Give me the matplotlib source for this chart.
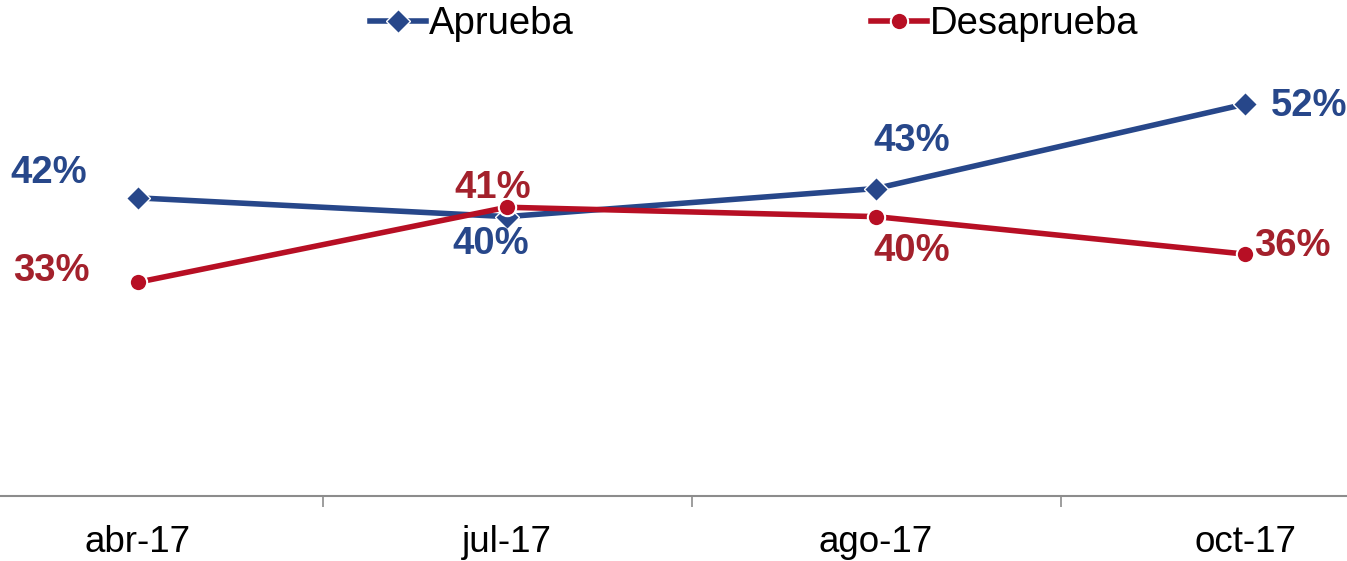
import matplotlib.pyplot as plt
import numpy as np

plt.rcParams['font.family'] = ['Liberation Sans', 'DejaVu Sans']

# data
meses = ['abr-17', 'jul-17', 'ago-17', 'oct-17']
aprueba = [42, 40, 43, 52]
desaprueba = [33, 41, 40, 36]

azul = '#27478a'
rojo = '#b70f24'
rojo_txt = '#a3212c'

# label offsets in points (dx, dy)
off_apr = [(-64, 18), (-12, -20), (26, 34), (46, -1)]
off_des = [(-62, 8), (-10, 14), (26, -25), (34, 6)]

fig = plt.figure(figsize=(13.47, 5.61), dpi=100)
ax = fig.add_axes([0, 0.116, 1, 0.832])

x = np.arange(len(meses))
ax.plot(x, aprueba, color=azul, lw=4, marker='D', ms=12.5,
        mfc=azul, mec='white', mew=1.0, label='Aprueba', zorder=3)
ax.plot(x, desaprueba, color=rojo, lw=4, marker='o', ms=12.5,
        mfc=rojo, mec='white', mew=1.5, label='Desaprueba', zorder=4)

for i in range(len(meses)):
    ax.annotate(f'{aprueba[i]}%', (x[i], aprueba[i]), xytext=off_apr[i],
                textcoords='offset points', ha='center', va='center',
                fontsize=27.5, fontweight='bold', color=azul)
    ax.annotate(f'{desaprueba[i]}%', (x[i], desaprueba[i]), xytext=off_des[i],
                textcoords='offset points', ha='center', va='center',
                fontsize=27.5, fontweight='bold', color=rojo_txt)

ax.set_xlim(-138 / 369, (1347 - 138) / 369)
ax.set_ylim(10.2, 60)

for s in ['top', 'left', 'right']:
    ax.spines[s].set_visible(False)
ax.spines['bottom'].set_color('#8c8c8c')
ax.spines['bottom'].set_linewidth(1.5)
ax.set_yticks([])
ax.set_xticks(x)
ax.set_xticklabels(meses, fontsize=26.5)
ax.set_xticks(x[:-1] + 0.5, minor=True)
ax.tick_params(axis='x', which='major', length=0, pad=21)
ax.tick_params(axis='x', which='minor', length=8, width=1.2,
               color='#8c8c8c', direction='out')

fig.legend(loc='center', bbox_to_anchor=(0.56, 0.957), ncol=2, frameon=False,
           fontsize=27.5, handlelength=1.45, handletextpad=0.08, columnspacing=7.8)

plt.savefig('out.png', dpi=100)
